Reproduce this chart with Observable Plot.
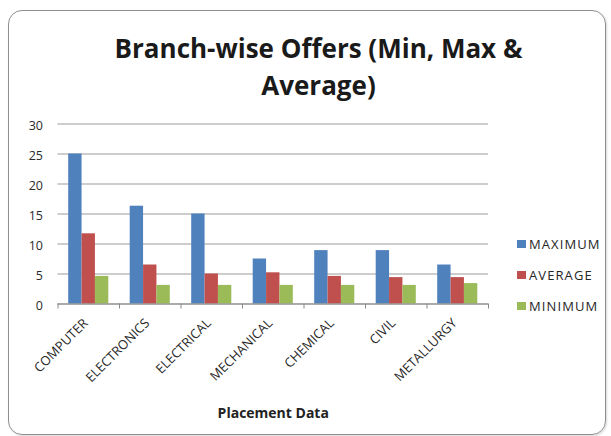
<!DOCTYPE html>
<html>
<head>
<meta charset="utf-8">
<script src="https://cdn.jsdelivr.net/npm/d3@7"></script>
<script src="https://cdn.jsdelivr.net/npm/@observablehq/plot@0.6"></script>
<style>
  html, body { margin: 0; padding: 0; background: #fff; }
  #wrap { position: relative; width: 611px; height: 436px; overflow: hidden; background: #fff; font-family: "Open Sans", sans-serif; }
  #frame { position: absolute; left: 8px; top: 10px; width: 596px; height: 423px; border: 1.5px solid #8e8e8e; border-radius: 14px; box-shadow: 1px 1px 2px rgba(0,0,0,0.15); }
  #title { position: absolute; left: 26px; width: 585px; top: 30px; text-align: center; font-weight: 700; font-size: 26px; line-height: 37px; color: #1a1a1a; }
  #chart { position: absolute; left: 0; top: 0; }
  #legend { position: absolute; left: 0; top: 0; }
  .row { position: absolute; left: 517px; height: 16px; display: flex; align-items: center; font-size: 13px; letter-spacing: 1.1px; color: #262626; }
  .sw { width: 9px; height: 8px; margin-right: 3px; }
</style>
</head>
<body>
<div id="wrap">
  <div id="frame"></div>
  <div id="chart"></div>
  <div id="title">Branch-wise Offers (Min, Max &amp;<br>Average)</div>
  <div id="legend"></div>
</div>
<script>
const branches = ["COMPUTER", "ELECTRONICS", "ELECTRICAL", "MECHANICAL", "CHEMICAL", "CIVIL", "METALLURGY"];
const series = ["MAXIMUM", "AVERAGE", "MINIMUM"];
const maximum = [25, 16.3, 15, 7.5, 8.9, 8.9, 6.5];
const average = [11.7, 6.5, 5.0, 5.2, 4.6, 4.4, 4.4];
const minimum = [4.6, 3.1, 3.1, 3.1, 3.1, 3.1, 3.4];
const colors = ["#4F81BD", "#C0504D", "#9BBB59"];
const yTicks = [0, 5, 10, 15, 20, 25, 30];
const xTitle = "Placement Data";

const values = [maximum, average, minimum];
const data = branches.flatMap((b, i) => values.map((vals, j) => ({branch: b, bi: i, series: series[j], si: j, value: vals[i]})));

const groupPad = 0.174;
const barW = (1 - 2 * groupPad) / series.length;

const chart = Plot.plot({
  width: 611,
  height: 436,
  marginTop: 123.5,
  marginBottom: 132.5,
  marginLeft: 57.5,
  marginRight: 123,
  style: {fontFamily: "Open Sans, sans-serif", background: "transparent", color: "#333"},
  x: {domain: [0, branches.length], axis: null},
  y: {domain: [0, 30], axis: null},
  color: {domain: series, range: colors},
  marks: [
    Plot.gridY(yTicks, {stroke: "#bcbcbc", strokeOpacity: 1, strokeWidth: 1.3}),
    Plot.axisY(yTicks, {tickSize: 0, tickPadding: 15, fontSize: 12.5, dy: 2, fill: "#2a2a2a", tickFormat: d => d, label: null}),
    Plot.rectY(data, {
      x1: d => d.bi + groupPad + d.si * barW,
      x2: d => d.bi + groupPad + (d.si + 1) * barW,
      y1: 0,
      y2: "value",
      fill: "series"
    }),
    Plot.ruleY([0], {stroke: "#8a8a8a", strokeWidth: 1.2}),
    Plot.axisX(d3.range(branches.length + 1), {tickSize: 5, stroke: "#8a8a8a", tickFormat: () => "", label: null}),
    Plot.axisX(d3.range(branches.length).map(i => i + 0.5), {
      tickSize: 0, tickPadding: 17, dx: -3, tickRotate: -45, fontSize: 13, fill: "#262626",
      tickFormat: d => branches[Math.floor(d)], label: null
    }),
    Plot.text([xTitle], {frameAnchor: "bottom", dy: 114, text: d => d, fontWeight: "bold", fontSize: 14, fill: "#222"})
  ]
});
document.getElementById("chart").appendChild(chart);

const legend = document.getElementById("legend");
const rowCenters = [244, 275, 306];
series.forEach((s, j) => {
  const row = document.createElement("div");
  row.className = "row";
  row.style.top = (rowCenters[j] - 8) + "px";
  const sw = document.createElement("div");
  sw.className = "sw";
  sw.style.background = chart.scale("color").apply(s);
  const t = document.createElement("span");
  t.textContent = s;
  row.appendChild(sw);
  row.appendChild(t);
  legend.appendChild(row);
});
</script>
</body>
</html>
